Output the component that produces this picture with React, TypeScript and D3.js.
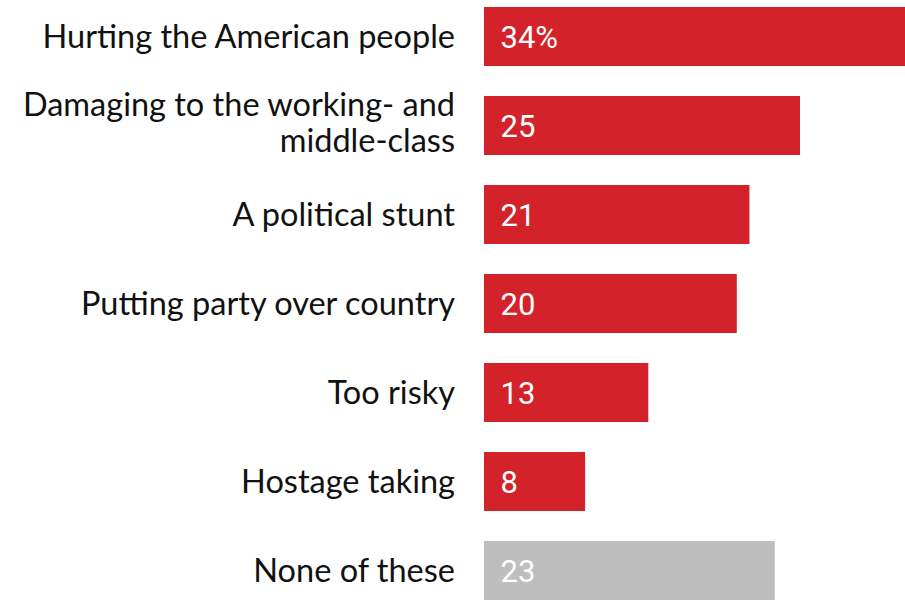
import React from "react";
import * as d3 from "d3";

const categories: string[][] = [
  ["Hurting the American people"],
  ["Damaging to the working- and", "middle-class"],
  ["A political stunt"],
  ["Putting party over country"],
  ["Too risky"],
  ["Hostage taking"],
  ["None of these"],
];
const values: number[] = [34, 25, 21, 20, 13, 8, 23];
const valueLabels: string[] = ["34%", "25", "21", "20", "13", "8", "23"];
const isNeutral: boolean[] = [false, false, false, false, false, false, true];

const W = 905;
const H = 603;
const RED = "#D32229";
const GRAY = "#BEBEBE";

export default function App() {
  const ids = categories.map((_, i) => String(i));
  const x = d3.scaleLinear().domain([0, 25]).range([484, 800]);
  const pad = 30 / 89;
  const y = d3
    .scaleBand<string>()
    .domain(ids)
    .range([-8, -8 + 89 * ids.length])
    .paddingInner(pad)
    .paddingOuter(pad / 2);
  const bw = y.bandwidth();

  return (
    <svg
      width={W}
      height={H}
      viewBox={`0 0 ${W} ${H}`}
      style={{ position: "absolute", left: 0, top: 0, display: "block", background: "#fff" }}
    >
      {ids.map((id, i) => {
        const y0 = y(id) as number;
        const cy = y0 + bw / 2;
        const lines = categories[i];
        return (
          <g key={id}>
            <rect
              x={x(0)}
              y={y0}
              width={x(values[i]) - x(0)}
              height={bw}
              fill={isNeutral[i] ? GRAY : RED}
            />
            <text
              x={x(0) + 16.5}
              y={cy + 11.5}
              fill="#fff"
              fontFamily="Roboto, 'Noto Sans', sans-serif"
              fontWeight={400}
              fontSize={31}
            >
              {valueLabels[i]}
            </text>
            {lines.length === 1 ? (
              <text
                x={455}
                y={cy + 11}
                textAnchor="end"
                fill="#111"
                fontFamily="Lato, 'Noto Sans', sans-serif"
                fontSize={32.5}
              >
                {lines[0]}
              </text>
            ) : (
              lines.map((ln, k) => (
                <text
                  key={k}
                  x={455}
                  y={cy - 9.5 + k * 36}
                  textAnchor="end"
                  fill="#111"
                  fontFamily="Lato, 'Noto Sans', sans-serif"
                  fontSize={32.5}
                >
                  {ln}
                </text>
              ))
            )}
          </g>
        );
      })}
    </svg>
  );
}
